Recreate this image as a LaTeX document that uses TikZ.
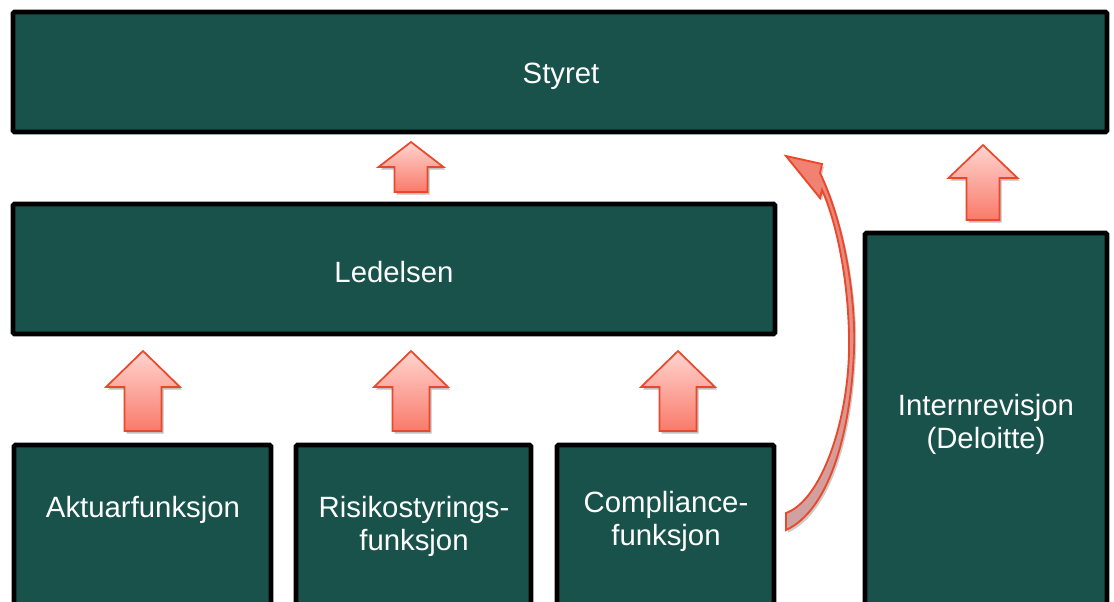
\documentclass[tikz,border=0pt]{standalone}
\usepackage{fontspec}
\setmainfont{Liberation Sans}
\usetikzlibrary{fit,shadows}
\definecolor{boxfill}{RGB}{24,82,75}
\definecolor{arrline}{RGB}{234,72,42}
\definecolor{arrtop}{RGB}{255,212,207}
\definecolor{arrbot}{RGB}{249,122,106}
\definecolor{curvtop}{RGB}{242,128,112}
\definecolor{curvbot}{RGB}{206,163,163}
\tikzset{
  box/.style={draw=black, line width=3.5pt, fill=boxfill, rounded corners=1pt, inner sep=0pt},
  lbl/.style={text=white, font=\fontsize{22}{24.75}\selectfont, align=center, inner sep=0pt},
  blockarrow/.style={draw=arrline, line width=1.3pt, top color=arrtop, bottom color=arrbot,
    line join=miter, drop shadow={shadow xshift=1.5pt, shadow yshift=-2pt, opacity=0.25, fill=black}},
  curvarrow/.style={draw=arrline, line width=1.4pt, top color=curvtop, bottom color=curvbot,
    line join=miter, drop shadow={shadow xshift=1.5pt, shadow yshift=-2pt, opacity=0.2, fill=black}},
}
\newcommand\BlockUp[6]{\path[blockarrow] (#1,#2) -- ({#1+#5},#3) -- ({#1+#6},#3) -- ({#1+#6},#4) -- ({#1-#6},#4) -- ({#1-#6},#3) -- ({#1-#5},#3) -- cycle;}
\begin{document}
\begin{tikzpicture}[x=0.75pt,y=-0.75pt]
\fill[white] (0,0) rectangle (1114,601);
\useasboundingbox (0,0) rectangle (1114,601);
% boxes
\node[box, fit={(13,12) (1107,132)}] (styret) {};
\node[box, fit={(13,204) (775,334)}] (ledelsen) {};
\node[box, fit={(14,445) (271,625)}] (aktuar) {};
\node[box, fit={(296,445) (531,625)}] (risiko) {};
\node[box, fit={(557,445) (774,625)}] (compliance) {};
\node[box, fit={(865,233) (1107,625)}] (internrev) {};
% labels
\node[lbl] (tstyret) at (561,76) {Styret};
\node[lbl] (tledelsen) at (394,272) {Ledelsen};
\node[lbl] (taktuar) at (143,510) {Aktuarfunksjon};
\node[lbl] (trisiko) at (414,526.5) {Risikostyrings-\\funksjon};
\node[lbl] (tcompliance) at (666,521.5) {Compliance-\\funksjon};
\node[lbl] (tinternrev) at (986,424) {Internrevisjon\\(Deloitte)};
% block arrows
\BlockUp{411}{142}{167}{192}{32.5}{16.5}
\BlockUp{143}{351}{387}{431}{37}{18.5}
\BlockUp{411}{351}{387}{431}{37}{18.5}
\BlockUp{678}{351}{387}{431}{37}{18.5}
\BlockUp{983}{145}{178}{220}{34.5}{16.5}
% curved arrow from Compliance to Styret
\path[curvarrow] (786,156) -- (822,164) -- (820,173)
  .. controls (845,225) and (856,300) .. (854,350)
  .. controls (851,430) and (830,510) .. (786,530)
  -- (786,513)
  .. controls (822,500) and (848,420) .. (849,350)
  .. controls (850,290) and (838,225) .. (822,190)
  -- (820,198) -- cycle;
\end{tikzpicture}
\end{document}
